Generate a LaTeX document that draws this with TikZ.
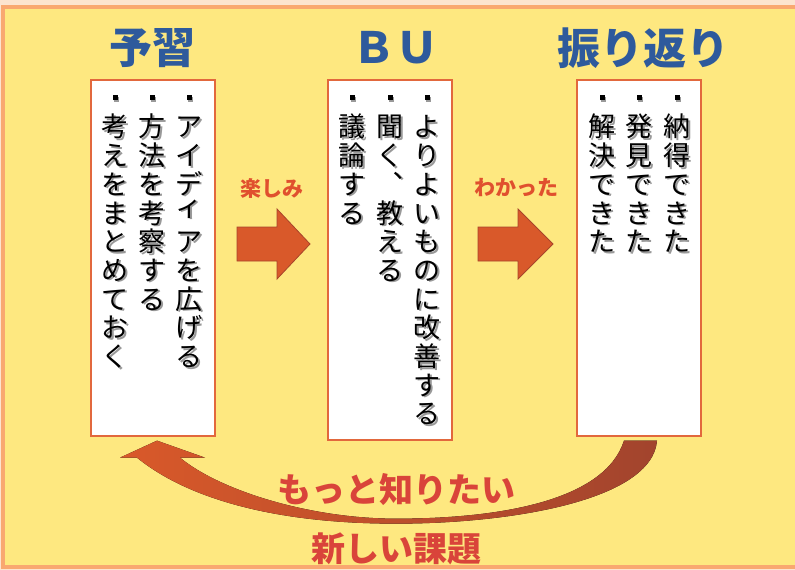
\documentclass[tikz,border=0pt]{standalone}
\usepackage{fontspec}
\newfontfamily\jp{Noto Sans CJK JP}
\usetikzlibrary{calc}
\definecolor{peach}{HTML}{FCE4CF}
\definecolor{paper}{HTML}{FEE880}
\definecolor{frameline}{HTML}{F9A870}
\definecolor{boxline}{HTML}{E2683D}
\definecolor{titleblue}{HTML}{2E5A9C}
\definecolor{arrowfill}{HTML}{D9592A}
\definecolor{arrowline}{HTML}{A8452B}
\definecolor{arrowdark}{HTML}{A2442D}
\definecolor{labelred}{HTML}{E0502E}
\definecolor{loopred}{HTML}{D9443A}
\newcommand\vcol[3]{%
  \node[colshade] (#1s) at ([shift={(1.5,1.5)}]#2) {#3};
  \node[coltext] (#1) at (#2) {#3};}
\newcommand\dotline{\raisebox{8pt}{\rule{5pt}{5pt}}}
\tikzset{
  stagebox/.style={draw=boxline, line width=1.3pt, fill=white, minimum width=124pt, inner sep=0pt},
  coltext/.style={anchor=north, inner sep=0pt, align=center, font=\jp\fontsize{27}{28.7}\selectfont, text=black},
  colshade/.style={coltext, text=black!40},
  stagetitle/.style={font=\jp\bfseries\fontsize{43}{43}\selectfont, text=titleblue},
  steplabel/.style={font=\jp\bfseries\fontsize{21}{21}\selectfont, text=labelred},
  looplabel/.style={font=\jp\bfseries\fontsize{34}{34}\selectfont, text=loopred},
  blockarrow/.style={fill=arrowfill, draw=arrowline, line width=0.8pt}
}
\begin{document}
\begin{tikzpicture}[x=1pt, y=-1pt]
  \path[use as bounding box, clip] (0,0) rectangle (795,570);
  \fill[peach] (0,0) rectangle (795,570);
  \draw[frameline, fill=paper, line width=4pt] (3,7) rectangle (810,567);

  \node[stagebox, minimum height=356pt] (prep) at (153,258) {};
  \node[stagebox, minimum height=360pt] (bu) at (390,260) {};
  \node[stagebox, minimum height=356pt] (rev) at (639,258) {};

  \node[stagetitle] (prept) at (152,48) {予習};
  \node[stagetitle] (but) at (395,48) {ＢＵ};
  \node[stagetitle] (revt) at (643,48) {振り返り};

  \begin{scope}
    \vcol{p1}{189,95}{\dotline\\ア\\イ\\デ\\\raisebox{7pt}{ィ}\\ア\\を\\広\\げ\\る}
    \vcol{p2}{152,95}{\dotline\\方\\法\\を\\考\\察\\す\\る}
    \vcol{p3}{115,95}{\dotline\\考\\え\\を\\ま\\と\\め\\て\\お\\く}
    \vcol{b1}{427,95}{\dotline\\よ\\り\\よ\\い\\も\\の\\に\\改\\善\\す\\る}
    \vcol{b2}{390,95}{\dotline\\聞\\く\\︑\\教\\え\\る}
    \vcol{b3}{352,95}{\dotline\\議\\論\\す\\る}
    \vcol{r1}{677,95}{\dotline\\納\\得\\で\\き\\た}
    \vcol{r2}{639,95}{\dotline\\発\\見\\で\\き\\た}
    \vcol{r3}{602,95}{\dotline\\解\\決\\で\\き\\た}
  \end{scope}

  \node[steplabel] (fun) at (272,188) {楽しみ};
  \node[steplabel] (got) at (516,188) {わかった};
  \fill[blockarrow] (237,227) -- (277,227) -- (277,209) -- (310,244)
    -- (277,279) -- (277,261) -- (237,261) -- cycle;
  \fill[blockarrow] (478,227) -- (518,227) -- (518,209) -- (553,244)
    -- (518,279) -- (518,261) -- (478,261) -- cycle;

  \coordinate (low) at ($(prep.south)!0.5!(rev.south)$);
  \fill[left color=arrowfill, middle color=arrowfill, right color=arrowdark]
    ($(prep.south)+(27,21)$) .. controls ($(prep.south)+(67,54)$) and ($(low)+(-86,82)$) .. ($(low)+(0,82)$)
    .. controls ($(low)+(104,82)$) and ($(rev.south)+(-34,64)$) .. ($(rev.south)+(-15,4)$)
    -- ($(rev.south)+(18,4)$)
    .. controls ($(rev.south)+(13,64)$) and ($(low)+(114,87)$) .. ($(low)+(0,87)$)
    .. controls ($(low)+(-116,87)$) and ($(prep.south)+(37,64)$) .. ($(prep.south)+(-16,21)$)
    -- ($(prep.south)+(-33,21)$) -- ($(prep.south)+(4,4)$) -- ($(prep.south)+(52,21)$) -- cycle;

  \node[looplabel] (more) at (396,490) {もっと知りたい};
  \node[looplabel] (task) at (396,549) {新しい課題};
\end{tikzpicture}
\end{document}
